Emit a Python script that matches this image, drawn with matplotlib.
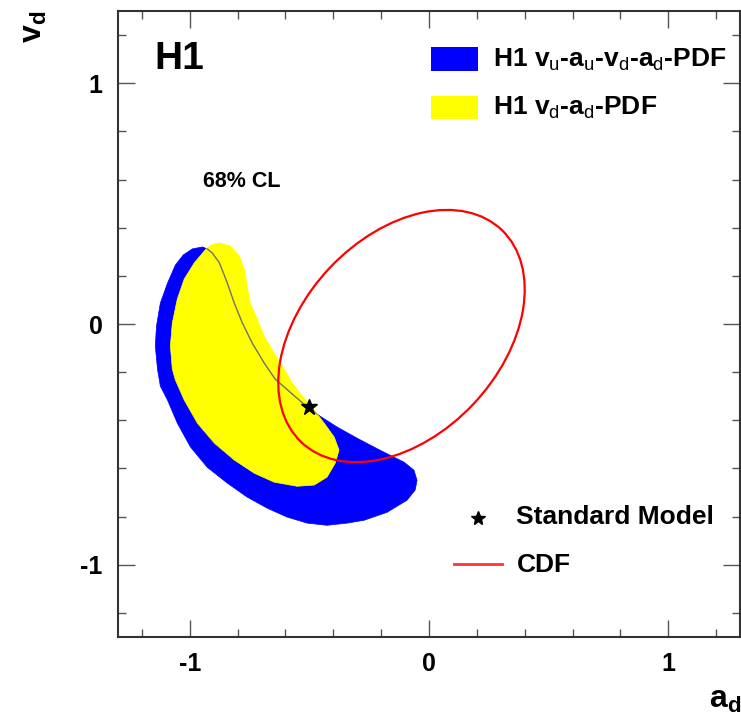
import matplotlib
matplotlib.use("Agg")
import matplotlib.pyplot as plt
from matplotlib.patches import Polygon, Ellipse, Rectangle
from matplotlib.ticker import MultipleLocator, FixedFormatter, FixedLocator
from matplotlib.lines import Line2D

plt.rcParams["font.family"] = ["Liberation Sans", "DejaVu Sans"]
plt.rcParams["mathtext.fontset"] = "custom"
plt.rcParams["mathtext.rm"] = "Liberation Sans"
plt.rcParams["mathtext.bf"] = "Liberation Sans:bold"
plt.rcParams["mathtext.it"] = "Liberation Sans:italic"
plt.rcParams["axes.unicode_minus"] = False

# H1 fit including u-quark couplings (v_u, a_u, v_d, a_d): 68% CL contour
h1_full_ad = [-0.947, -0.989, -1.027, -1.060, -1.093, -1.123, -1.139, -1.144,
              -1.135, -1.123, -1.093, -1.052, -0.997, -0.927, -0.843, -0.760,
              -0.676, -0.593, -0.509, -0.426, -0.342, -0.271, -0.175, -0.092,
              -0.058, -0.050, -0.063, -0.104, -0.205, -0.301, -0.384, -0.455,
              -0.509, -0.576, -0.643, -0.689, -0.739, -0.780, -0.814, -0.843,
              -0.876, -0.906, -0.927]
h1_full_vd = [0.320, 0.312, 0.287, 0.245, 0.170, 0.087, -0.008, -0.091,
              -0.187, -0.258, -0.316, -0.412, -0.511, -0.595, -0.661, -0.719,
              -0.765, -0.802, -0.827, -0.836, -0.827, -0.815, -0.782, -0.732,
              -0.690, -0.649, -0.607, -0.574, -0.524, -0.474, -0.428, -0.383,
              -0.345, -0.287, -0.229, -0.162, -0.079, 0.004, 0.087, 0.170,
              0.254, 0.295, 0.312]

# H1 fit of d-quark couplings only (v_d, a_d): 68% CL contour
h1_d_ad = [-0.876, -0.831, -0.793, -0.772, -0.760, -0.747, -0.718, -0.689,
           -0.647, -0.605, -0.572, -0.530, -0.480, -0.438, -0.396, -0.376,
           -0.392, -0.426, -0.480, -0.551, -0.647, -0.730, -0.814, -0.897,
           -0.968, -1.023, -1.060, -1.073, -1.081, -1.073, -1.052, -1.023,
           -0.981, -0.935, -0.910]
h1_d_vd = [0.337, 0.324, 0.283, 0.229, 0.158, 0.087, 0.021, -0.050,
           -0.121, -0.187, -0.245, -0.299, -0.358, -0.412, -0.470, -0.524,
           -0.578, -0.636, -0.669, -0.674, -0.657, -0.620, -0.565, -0.495,
           -0.412, -0.316, -0.233, -0.187, -0.091, 0.004, 0.104, 0.187,
           0.254, 0.308, 0.328]

# CDF 68% CL ellipse: centre (a_d, v_d), full axes and tilt in degrees
cdf_center = (-0.115, -0.050)
cdf_width = 1.216
cdf_height = 0.825
cdf_angle = 46.3

# Standard Model prediction
sm_ad = -0.5
sm_vd = -0.345

tick_values = [-1, 0, 1]
tick_labels = ["-1", "0", "1"]

W, H = 741, 719
fig = plt.figure(figsize=(W / 100, H / 100), dpi=100)
ax = fig.add_axes([118 / W, 82 / H, 622 / W, 626 / H])
ax.set_xlim(-1.3, 1.3)
ax.set_ylim(-1.3, 1.3)

blue = Polygon(list(zip(h1_full_ad, h1_full_vd)), closed=True,
               facecolor="#0000ff", edgecolor="#0000ff", lw=0.5, zorder=2)
ax.add_patch(blue)
yellow = Polygon(list(zip(h1_d_ad, h1_d_vd)), closed=True,
                 facecolor="#ffff00", edgecolor="#ffff00", lw=0.5, zorder=3)
ax.add_patch(yellow)

# outline of the full fit, visible where it runs under the d-only region
outline, = ax.plot(h1_full_ad + h1_full_ad[:1], h1_full_vd + h1_full_vd[:1],
                   color="#707070", lw=1.0, zorder=4)
outline.set_clip_path(yellow)

cdf = Ellipse(cdf_center, cdf_width, cdf_height, angle=cdf_angle,
              fill=False, edgecolor="#ff0000", lw=1.6, zorder=5)
ax.add_patch(cdf)

ax.plot([sm_ad], [sm_vd], marker="*", color="black", markersize=12, zorder=6)

# axes styling
for s in ax.spines.values():
    s.set_color("#333333")
    s.set_linewidth(1.5)
ax.xaxis.set_major_locator(FixedLocator(tick_values))
ax.yaxis.set_major_locator(FixedLocator(tick_values))
ax.xaxis.set_major_formatter(FixedFormatter(tick_labels))
ax.yaxis.set_major_formatter(FixedFormatter(tick_labels))
ax.xaxis.set_minor_locator(MultipleLocator(0.2))
ax.yaxis.set_minor_locator(MultipleLocator(0.2))
ax.tick_params(which="both", direction="in", top=True, right=True,
               color="#555555", width=1.0)
ax.tick_params(which="major", length=12.5, pad=11, labelsize=18)
ax.tick_params(which="minor", length=6)
for lab in ax.get_xticklabels() + ax.get_yticklabels():
    lab.set_fontweight("bold")

ax.text(-0.135, 1.0, r"$\mathbf{v}_\mathbf{d}$", transform=ax.transAxes,
        rotation=90, ha="center", va="top", fontsize=23)
ax.text(1.002, -0.113, r"$\mathbf{a}_\mathbf{d}$", transform=ax.transAxes,
        ha="right", va="baseline", fontsize=23)

ax.text(0.059, 0.923, "H1", transform=ax.transAxes, ha="left", va="center",
        fontsize=28, fontweight="bold")
ax.text(0.137, 0.727, "68% CL", transform=ax.transAxes, ha="left",
        va="center", fontsize=15.5, fontweight="bold")

# legend, upper right
ax.add_patch(Rectangle((0.503, 0.904), 0.076, 0.038, transform=ax.transAxes,
                       facecolor="#0000ff", edgecolor="none", zorder=7))
ax.add_patch(Rectangle((0.503, 0.827), 0.076, 0.037, transform=ax.transAxes,
                       facecolor="#ffff00", edgecolor="none", zorder=7))
ax.text(0.603, 0.922,
        r"H1 $\mathbf{v}_\mathrm{u}$-$\mathbf{a}_\mathrm{u}$-$\mathbf{v}_\mathrm{d}$-$\mathbf{a}_\mathrm{d}$-PDF",
        transform=ax.transAxes, ha="left", va="center", fontsize=19,
        fontweight="bold")
ax.text(0.603, 0.845, r"H1 $\mathbf{v}_\mathrm{d}$-$\mathbf{a}_\mathrm{d}$-PDF",
        transform=ax.transAxes, ha="left", va="center", fontsize=19,
        fontweight="bold")

# legend, lower right
ax.add_line(Line2D([0.579], [0.190], transform=ax.transAxes, marker="*",
                   color="black", markersize=10, linestyle="none"))
ax.text(0.640, 0.192, "Standard Model", transform=ax.transAxes, ha="left",
        va="center", fontsize=19, fontweight="bold")
ax.add_line(Line2D([0.540, 0.617], [0.117, 0.117], transform=ax.transAxes,
                   color="#ff3333", lw=2.0))
ax.text(0.641, 0.115, "CDF", transform=ax.transAxes, ha="left", va="center",
        fontsize=19, fontweight="bold")

fig.savefig("out.png", dpi=100)
